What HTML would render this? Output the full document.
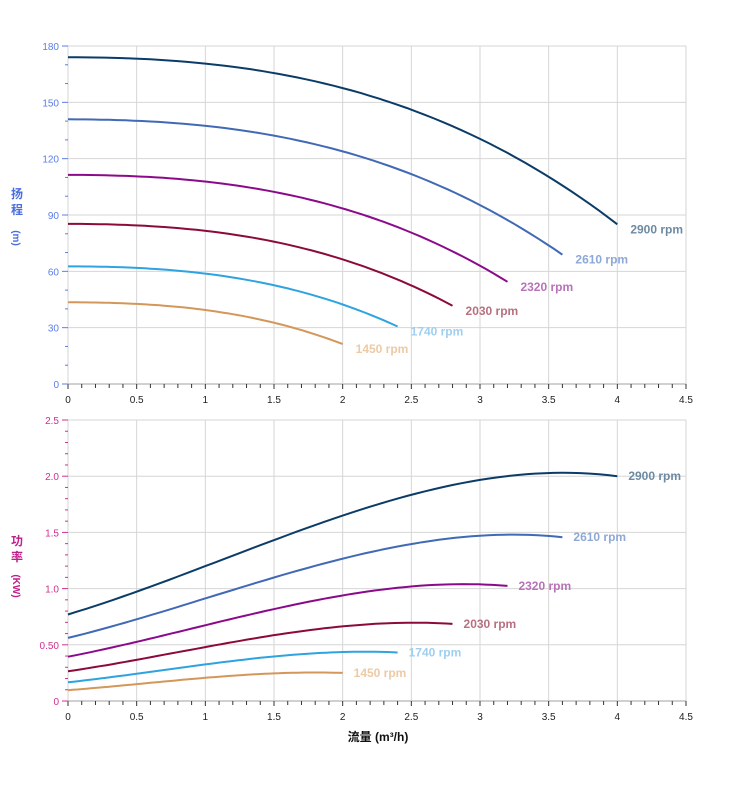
<!DOCTYPE html>
<html><head><meta charset="utf-8"><style>
html,body{margin:0;padding:0;background:#fff;}
svg{display:block;font-family:"Liberation Sans","Noto Sans CJK SC",sans-serif;}
</style></head><body>
<svg id="s" width="752" height="797" xmlns="http://www.w3.org/2000/svg"></svg>
<script>
const s=document.getElementById('s');
let h='';
const X0=68,X1=686,xs=(X1-X0)/4.5;
const TY0=384,TY1=46,ty=v=>TY0-(TY0-TY1)*v/180;
const BY0=701,BY1=420,by=v=>BY0-(BY0-BY1)*v/2.5;
const X=q=>X0+q*xs;
function grid(Y0,Y1,ys,n,yf){
  for(let i=1;i<=9;i++){const x=X(i*0.5);h+=`<line x1="${x}" y1="${Y1}" x2="${x}" y2="${Y0}" stroke="#d6d6d6" stroke-width="1"/>`;}
  for(let i=1;i<=n;i++){const y=yf(i*ys);h+=`<line x1="${X0}" y1="${y}" x2="${X1}" y2="${y}" stroke="#d6d6d6" stroke-width="1"/>`;}
  h+=`<line x1="${X0}" y1="${Y1}" x2="${X0}" y2="${Y0}" stroke="#d6d6d6" stroke-width="1"/>`;
  h+=`<line x1="${X0}" y1="${Y0}" x2="${X1}" y2="${Y0}" stroke="#d0d0d0" stroke-width="2"/>`;
  for(let i=0;i<=45;i++){const x=X(i*0.1);const maj=i%5==0;h+=`<line x1="${x}" y1="${Y0}" x2="${x}" y2="${Y0+(maj?5:4)}" stroke="#333" stroke-width="1"/>`;}
  for(let i=0;i<=9;i++){h+=`<text x="${X(i*0.5)}" y="${Y0+19}" font-size="10" text-anchor="middle" fill="#222">${i==0?'0':(i*0.5)}</text>`;}
}
grid(TY0,TY1,30,6,ty);
grid(BY0,BY1,0.5,5,by);
for(let v=0;v<=180;v+=10){const y=ty(v);const maj=v%30==0;h+=`<line x1="${maj?62:65}" y1="${y}" x2="${X0}" y2="${y}" stroke="#5a7de8" stroke-width="1"/>`;if(maj)h+=`<text x="59" y="${y+4}" font-size="10" text-anchor="end" fill="#5a7de8">${v}</text>`;}
for(let i=0;i<=25;i++){const v=i*0.1,y=by(v);const maj=i%5==0;h+=`<line x1="${maj?62:65}" y1="${y}" x2="${X0}" y2="${y}" stroke="#d0308f" stroke-width="1"/>`;if(maj)h+=`<text x="59" y="${y+4}" font-size="10" text-anchor="end" fill="#d0308f">${['0','0.50','1.0','1.5','2.0','2.5'][i/5]}</text>`;}
h+=`<text x="17" y="198" font-size="12" font-weight="bold" fill="#4a6de0" text-anchor="middle">扬</text><text x="17" y="214" font-size="12" font-weight="bold" fill="#4a6de0" text-anchor="middle">程</text>`;
h+=`<text transform="translate(13,238) rotate(90)" font-size="10" font-weight="bold" fill="#4a6de0" text-anchor="middle">(m)</text>`;
h+=`<text x="17" y="545" font-size="12" font-weight="bold" fill="#c0208a" text-anchor="middle">功</text><text x="17" y="561" font-size="12" font-weight="bold" fill="#c0208a" text-anchor="middle">率</text>`;
h+=`<text transform="translate(13,586) rotate(90)" font-size="10" font-weight="bold" fill="#c0208a" text-anchor="middle">(KW)</text>`;
h+=`<text x="378" y="741" font-size="12" font-weight="bold" fill="#111" text-anchor="middle">流量 (m³/h)</text>`;
const f=Q=>174-2.64*Q*Q-0.73*Q*Q*Q;
const g=Q=>0.77+0.369*Q+0.0862*Q*Q-0.0254*Q*Q*Q;
const S=[[2900,'#0b3c68','#6d8aa3'],[2610,'#4169b5','#8ea8d8'],[2320,'#8b0a8b','#b872b8'],[2030,'#8b0a3a','#b87080'],[1740,'#2ea3e0','#9fcfee'],[1450,'#d4975a','#eccaa6']];
S.forEach(([n,c,lc])=>{
  const r=n/2900,qe=4*r;let p1='',p2='';
  for(let i=0;i<=60;i++){const q=qe*i/60;const H=r*r*f(q/r),P=r*r*r*g(q/r);
    p1+=(i?'L':'M')+X(q).toFixed(1)+','+ty(H).toFixed(1);p2+=(i?'L':'M')+X(q).toFixed(1)+','+by(P).toFixed(1);}
  h+=`<path d="${p1}" fill="none" stroke="${c}" stroke-width="2"/>`;
  h+=`<path d="${p2}" fill="none" stroke="${c}" stroke-width="2"/>`;
  const ex=X(qe);
  h+=`<text x="${ex+13}" y="${ty(r*r*f(4))+9}" font-size="12" font-weight="bold" fill="${lc}">${n} rpm</text>`;
  h+=`<text x="${ex+11}" y="${by(r*r*r*g(4))+4}" font-size="12" font-weight="bold" fill="${lc}">${n} rpm</text>`;
});
s.innerHTML=h;
</script>
</body></html>
